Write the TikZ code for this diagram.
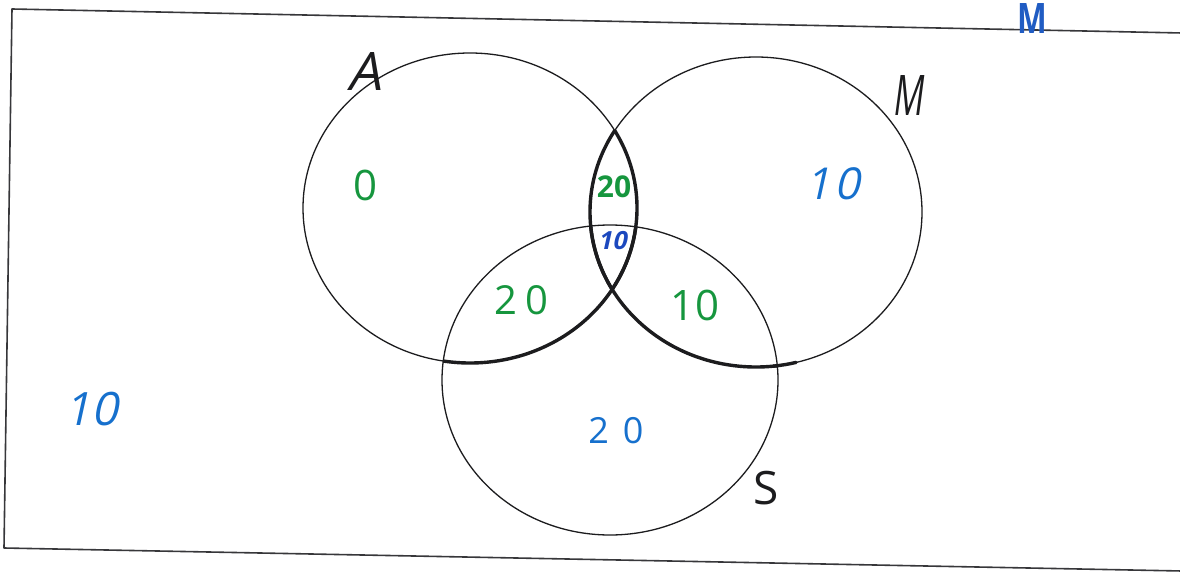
\documentclass[tikz,border=0pt]{standalone}
\usepackage{fontspec}
\setmainfont{Open Sans}
\newfontfamily\hand{Open Sans}
\newfontfamily\handsl[FakeSlant=0.22]{Open Sans}
\definecolor{pen}{RGB}{28,28,30}
\definecolor{framecol}{RGB}{55,55,58}
\definecolor{grn}{RGB}{22,150,62}
\definecolor{blu}{RGB}{22,112,205}
\definecolor{dblu}{RGB}{28,72,190}
\definecolor{mblu}{RGB}{32,92,195}
\begin{document}
\begin{tikzpicture}[x=1pt,y=-1pt,
  thinpen/.style={draw=pen, line width=1.3pt},
  marker/.style={draw=pen, line width=3.4pt, line cap=round},
  framepen/.style={draw=framecol, line width=1.6pt},
  lbl/.style={inner sep=0pt, outer sep=0pt, anchor=center}]
\useasboundingbox (0,0) rectangle (1180,572);
\fill[white] (0,0) rectangle (1180,572);
% frame (open on the right)
\coordinate (fTR) at (1182,33);
\coordinate (fTL) at (12,9);
\coordinate (fBL) at (4,548);
\coordinate (fBR) at (1182,571);
\draw[framepen, line join=round] (fTR) -- (fTL) -- (fBL) -- (fBR);
% circles
\def\Aell{(470,208) ellipse [x radius=167pt, y radius=155pt]}
\def\Mell{(756,212) ellipse [x radius=166pt, y radius=155pt]}
\def\Sell{(610,380) ellipse [x radius=168pt, y radius=155pt]}
\draw[thinpen] \Aell;
\draw[thinpen] \Mell;
\draw[thinpen] \Sell;
% thick marker traces
\begin{scope}\clip \Mell; \draw[marker] \Aell; \end{scope}
\begin{scope}\clip \Sell; \draw[marker] \Aell; \end{scope}
\begin{scope}\clip \Aell; \draw[marker] \Mell; \end{scope}
\begin{scope}\clip \Sell; \draw[marker] \Mell; \end{scope}
\draw[marker] ({756+166*cos(84)},{212+155*sin(84)}) arc[start angle=-84, end angle=-76, x radius=166pt, y radius=155pt];
% set names
\node[lbl, text=pen, font=\handsl\fontsize{53}{53}\selectfont] (labA) at (364,72) {A};
\node[lbl, text=pen, font=\handsl\fontsize{56}{56}\selectfont, xscale=0.6] (labM) at (908,96) {M};
\node[lbl, text=pen, font=\hand\fontsize{46}{46}\selectfont] (labS) at (766,488) {S};
\node[lbl, text=mblu, font=\hand\bfseries\fontsize{42}{42}\selectfont, xscale=0.75] (labM2) at (1032,19) {M};
% numbers
\node[lbl, text=grn, font=\hand\fontsize{42}{42}\selectfont] (nA) at (366,185) {0};
\node[lbl, text=grn, font=\hand\bfseries\fontsize{30}{30}\selectfont] (nAM) at (614,187) {20};
\node[lbl, text=dblu, font=\handsl\bfseries\fontsize{25}{25}\selectfont] (nAMS) at (612,241) {10};
\node[lbl, text=blu, font=\handsl\fontsize{44}{44}\selectfont] (nM) at (833,184) {1\kern4pt0};
\node[lbl, text=grn, font=\hand\fontsize{40}{40}\selectfont] (nAS) at (521,300) {2\kern8pt0};
\node[lbl, text=grn, font=\hand\fontsize{42}{42}\selectfont] (nMS) at (695,305) {10};
\node[lbl, text=blu, font=\hand\fontsize{36}{36}\selectfont] (nS) at (616,431) {2\kern14pt0};
\node[lbl, text=blu, font=\handsl\fontsize{46}{46}\selectfont] (nOut) at (91,409) {10};
\end{tikzpicture}
\end{document}
